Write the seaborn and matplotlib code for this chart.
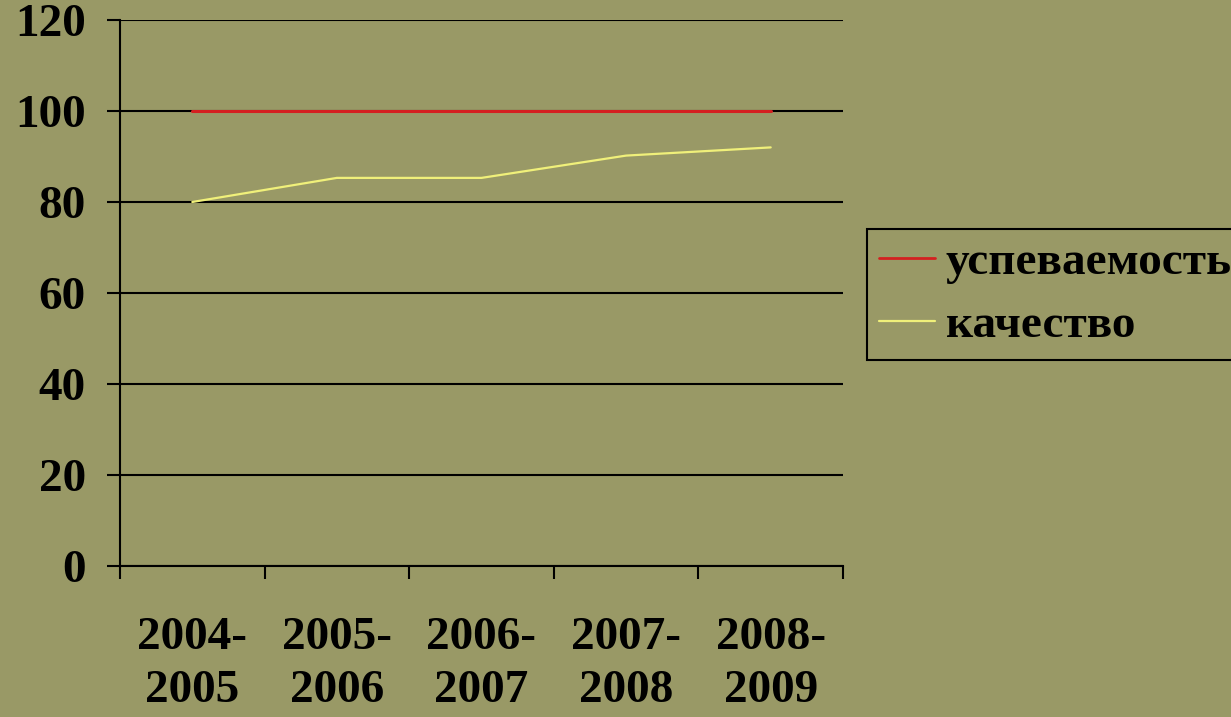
import matplotlib
matplotlib.use("Agg")
import matplotlib.pyplot as plt
import seaborn as sns
import pandas as pd
import numpy as np

years = ["2004-\n2005", "2005-\n2006", "2006-\n2007", "2007-\n2008", "2008-\n2009"]
uspevaemost = [100, 100, 100, 100, 100]
kachestvo = [80, 85.3, 85.3, 90.2, 92]
series_names = ["успеваемость", "качество"]
y_ticks = [0, 20, 40, 60, 80, 100, 120]

BG = "#999966"
RED = "#d42020"
YEL = "#f0f07a"

sns.set_theme(style="white")
plt.rcParams['font.family'] = ['Liberation Serif', 'DejaVu Serif']
plt.rcParams['font.weight'] = 'bold'
plt.rcParams['text.color'] = 'black'

df = pd.DataFrame({
    "x": list(range(len(years))) * 2,
    "value": uspevaemost + kachestvo,
    "series": [series_names[0]] * len(years) + [series_names[1]] * len(years),
})

W, H = 1231, 717
fig = plt.figure(figsize=(W / 100, H / 100), dpi=100)
fig.patch.set_facecolor(BG)
ax = fig.add_axes([120 / W, (H - 566) / H, 723 / W, 546 / H])
ax.set_facecolor(BG)

sns.lineplot(data=df, x="x", y="value", hue="series", palette=[RED, YEL],
             ax=ax, linewidth=2.2, legend=False)
ax.lines[1].set_linewidth(1.6)

ax.set_xlim(-0.5, len(years) - 0.5)
ax.set_ylim(0, 120)
ax.set_yticks(y_ticks)
ax.set_yticklabels([str(v) for v in y_ticks], fontsize=34, fontweight='bold')
ax.yaxis.grid(True, color="black", linewidth=1.5)
ax.set_axisbelow(True)

ax.set_xticks(np.arange(-0.5, len(years), 1.0))
ax.set_xticklabels([])
ax.set_xticks(np.arange(len(years)), minor=True)
ax.set_xticklabels(years, minor=True, fontsize=34, fontweight='bold', linespacing=1.32)
ax.tick_params(axis='x', which='major', direction='out', length=9, width=1.5, color='black', bottom=True)
ax.tick_params(axis='x', which='minor', length=0, pad=37, labelcolor='black')
ax.tick_params(axis='y', direction='out', length=9.5, width=1.5, color='black', pad=15, left=True, labelcolor='black')

for s in ["top", "right"]:
    ax.spines[s].set_visible(False)
for s in ["left", "bottom"]:
    ax.spines[s].set_color("black")
    ax.spines[s].set_linewidth(1.5)
ax.set_xlabel("")
ax.set_ylabel("")

from matplotlib.lines import Line2D
handles = [Line2D([], [], color=RED, linewidth=2.0), Line2D([], [], color=YEL, linewidth=1.6)]
leg = fig.legend(handles, series_names, loc="upper left",
                 bbox_to_anchor=(867 / W, 1 - 229 / H), bbox_transform=fig.transFigure,
                 borderaxespad=0, fancybox=False, frameon=True, facecolor=BG,
                 edgecolor="black", framealpha=1, handlelength=1.17, handletextpad=0.24,
                 labelspacing=0.42, borderpad=0.26, labelcolor='black',
                 prop={'size': 34, 'weight': 'bold', 'family': 'Liberation Serif'})
leg.get_frame().set_linewidth(1.5)

fig.savefig("out.png", dpi=100, facecolor=BG)
